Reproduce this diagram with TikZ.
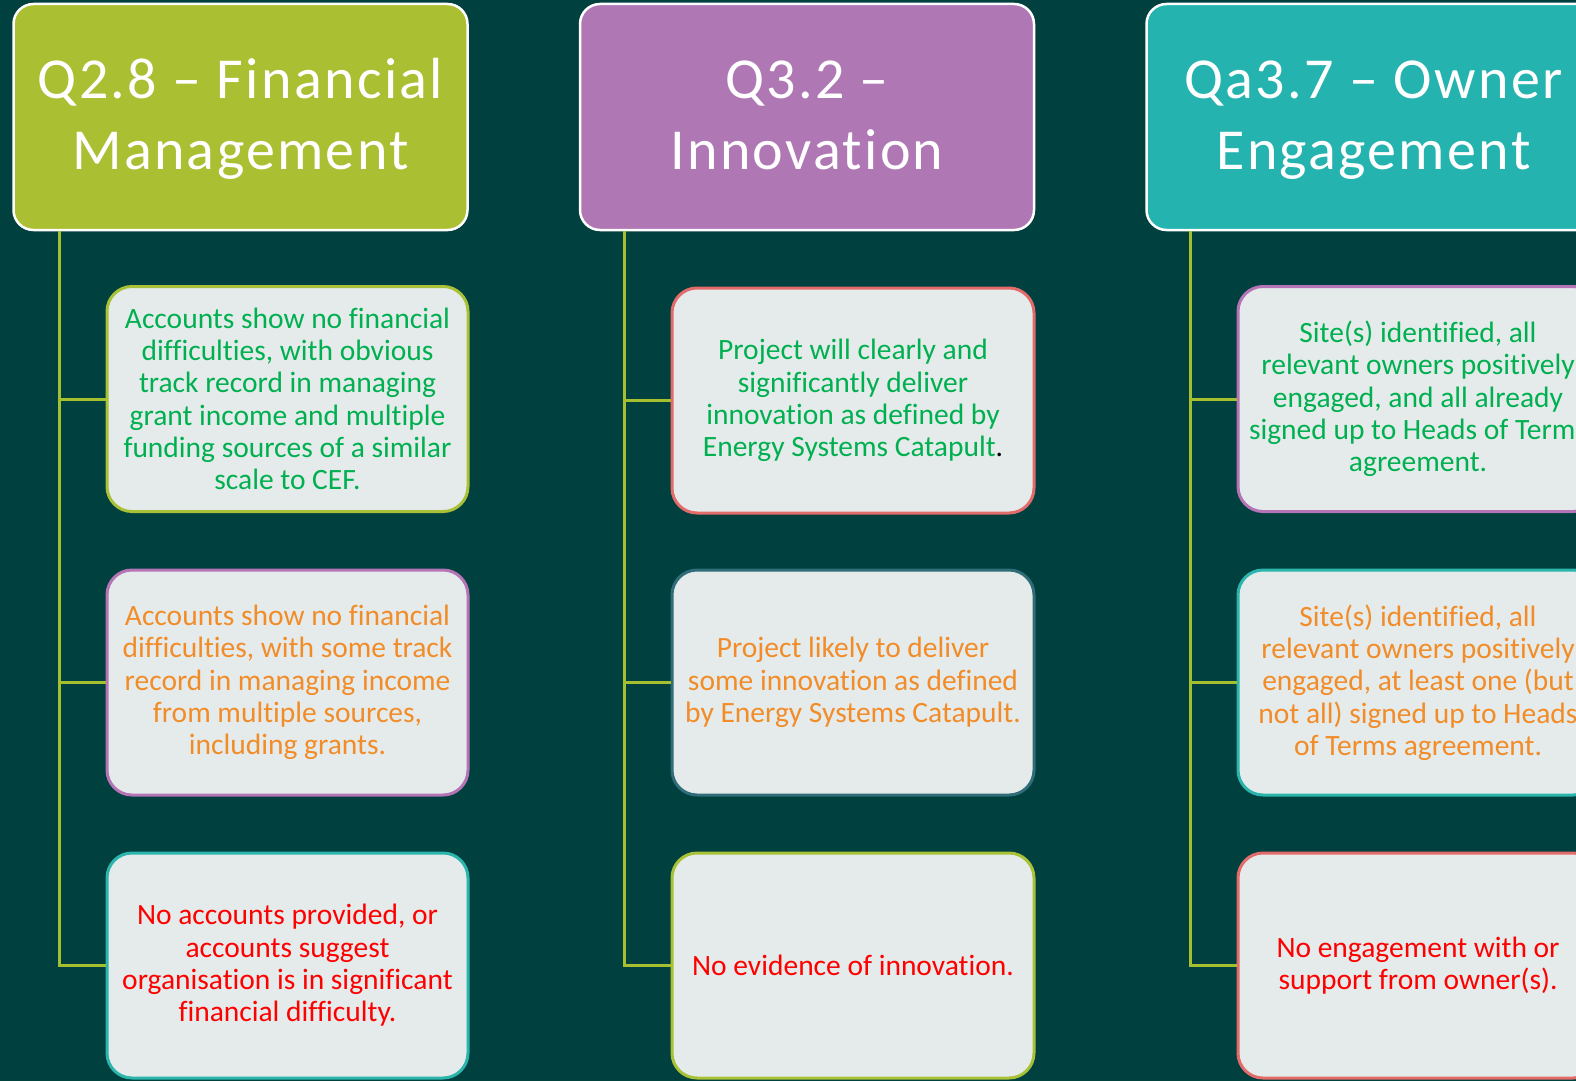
\documentclass[tikz,border=0pt]{standalone}
\usepackage{fontspec}
\setmainfont{Carlito}[Ligatures=NoCommon]
\newfontfamily\headfont{Carlito}[Ligatures=NoCommon, LetterSpace=4]
\usetikzlibrary{calc}
\definecolor{bgc}{HTML}{00403F}
\definecolor{hOlive}{HTML}{ABBF33}
\definecolor{hPurp}{HTML}{B077B5}
\definecolor{hTeal}{HTML}{24B3AE}
\definecolor{cfill}{HTML}{E5EBEB}
\definecolor{bOlive}{HTML}{A9C136}
\definecolor{bPurp}{HTML}{B574B5}
\definecolor{bTeal}{HTML}{2CB5AC}
\definecolor{bSalmon}{HTML}{E36C6A}
\definecolor{bDark}{HTML}{2F6E78}
\definecolor{tGreen}{HTML}{00B050}
\definecolor{tOrange}{HTML}{F28C28}
\definecolor{tRed}{HTML}{FF0000}
\definecolor{connc}{HTML}{A6BF2E}
\newcommand{\htop}{\rule{0pt}{48pt}}
\newcommand{\hbot}{\rule[-15pt]{0pt}{15pt}}
\tikzset{
  headbox/.style={draw=white, line width=2.5pt, rounded corners=20pt,
    minimum height=226pt, minimum width=454pt, text=white, align=center,
    font=\headfont\fontsize{58}{71}\selectfont, inner sep=0pt},
  childbox/.style={fill=cfill, line width=3pt, rounded corners=25pt,
    minimum height=225pt, minimum width=361pt, align=center,
    font=\fontsize{29.5}{32.3}\selectfont, inner sep=0pt},
  conn/.style={draw=connc, line width=3pt}
}
\begin{document}
\begin{tikzpicture}[x=1pt,y=-1pt]
\useasboundingbox (0,0) rectangle (1576,1081);
\fill[bgc] (0,0) rectangle (1576,1081);

% headers
\node[headbox, fill=hOlive] (h1) at (240.5,117) {\htop Q2.8 – Financial\\Management\hbot};
\node[headbox, fill=hPurp] (h2) at (807,117) {\htop Q3.2 –\\Innovation\hbot};
\node[headbox, fill=hTeal] (h3) at (1373.5,117) {\htop Qa3.7 – Owner\\Engagement\hbot};

% column 1
\node[childbox, draw=bOlive, text=tGreen] (c11) at (287.5,399)
  {Accounts show no financial\\difficulties, with obvious\\track record in managing\\grant income and multiple\\funding sources of a similar\\scale to CEF.};
\node[childbox, draw=bPurp, text=tOrange] (c12) at (287.5,682.5)
  {Accounts show no financial\\difficulties, with some track\\record in managing income\\from multiple sources,\\including grants.};
\node[childbox, draw=bTeal, text=tRed] (c13) at (287.5,965.5)
  {No accounts provided, or\\accounts suggest\\organisation is in significant\\financial difficulty.};

% column 2
\node[childbox, draw=bSalmon, text=tGreen, minimum width=362pt] (c21) at (853,400.5)
  {Project will clearly and\\significantly deliver\\innovation as defined by\\Energy Systems Catapult\textcolor{black}{.}};
\node[childbox, draw=bDark, text=tOrange, minimum width=362pt] (c22) at (853,682.5)
  {Project likely to deliver\\some innovation as defined\\by Energy Systems Catapult.};
\node[childbox, draw=bOlive, text=tRed, minimum width=362pt] (c23) at (853,965.5)
  {No evidence of innovation.};

% column 3
\node[childbox, draw=bPurp, text=tGreen, minimum width=360pt] (c31) at (1418,399)
  {Site(s) identified, all\\relevant owners positively\\engaged, and all already\\signed up to Heads of Terms\\agreement.};
\node[childbox, draw=bTeal, text=tOrange, minimum width=360pt] (c32) at (1418,682.5)
  {Site(s) identified, all\\relevant owners positively\\engaged, at least one (but\\not all) signed up to Heads\\of Terms agreement.};
\node[childbox, draw=bSalmon, text=tRed, minimum width=360pt] (c33) at (1418,965.5)
  {No engagement with or\\support from owner(s).};

% connectors
\coordinate (t1) at ($(h1.south west)+(47,0)$);
\coordinate (t2) at ($(h2.south west)+(46,0)$);
\coordinate (t3) at ($(h3.south west)+(45,0)$);
\foreach \c in {1,2,3}{
  \foreach \r in {1,2,3}{
    \draw[conn] (t\c) |- (c\c\r.west);
  }
}
\end{tikzpicture}
\end{document}
